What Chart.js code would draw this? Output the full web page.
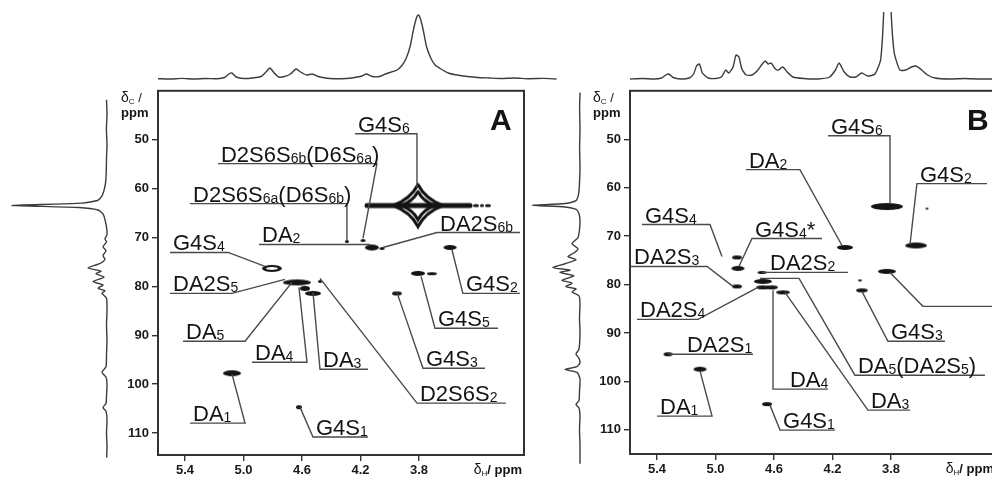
<!DOCTYPE html>
<html>
<head>
<meta charset="utf-8">
<script src="https://cdn.jsdelivr.net/npm/chart.js@4.4.1/dist/chart.umd.min.js"></script>
<style>
  html, body { margin: 0; padding: 0; background: #fff; }
  body { width: 992px; height: 478px; position: relative; overflow: hidden; }
  canvas { position: absolute; }
</style>
</head>
<body>
<canvas id="leftA" width="110" height="390" style="left:0px;top:80px"></canvas>
<canvas id="topA" width="402" height="90" style="left:158px;top:0px"></canvas>
<canvas id="mainA" width="436" height="398" style="left:98px;top:80px"></canvas>
<canvas id="leftB" width="90" height="390" style="left:500px;top:80px"></canvas>
<canvas id="topB" width="366" height="78" style="left:630px;top:12px"></canvas>
<canvas id="mainB" width="436" height="398" style="left:570px;top:80px"></canvas>
<script>
// axis ticks (ppm)
const xTicks = [5.4, 5.0, 4.6, 4.2, 3.8];
const yTicks = [50, 60, 70, 80, 90, 100, 110];

// 1H projections on top: [δH ppm, intensity]
const projTopA = [
  [5.585,0.3],[5.50,0],[5.42,0.6],[5.34,0],[5.26,0.5],[5.18,0.3],[5.13,1.5],[5.10,5],[5.08,6],[5.05,2],
  [5.00,0.5],[4.94,1],[4.88,2.5],[4.84,8],[4.82,11],[4.79,6],[4.76,2],[4.72,2.5],[4.68,5],[4.64,10],
  [4.61,7],[4.57,4],[4.53,5],[4.49,2.5],[4.44,1],[4.38,0.3],[4.30,0.5],[4.24,1.5],[4.19,3],[4.16,5],
  [4.12,2.5],[4.07,2.5],[4.03,5],[3.99,7],[3.95,9],[3.92,13],[3.89,20],[3.86,33],[3.84,48],[3.82,60],
  [3.805,64],[3.79,60],[3.77,48],[3.75,33],[3.72,21],[3.69,14],[3.65,10],[3.60,6],[3.54,4],[3.47,2.5],
  [3.40,1.5],[3.32,1],[3.24,0.5],[3.15,1],[3.05,0.3],[2.95,0.6],[2.86,0]
];
const projTopB = [
  [5.585,0],[5.50,0.5],[5.42,0],[5.37,1],[5.34,4],[5.32,5],[5.29,1.5],[5.24,0],[5.18,1],[5.15,5],
  [5.13,13],[5.11,15],[5.09,6],[5.05,1],[5.00,0.5],[4.96,2],[4.93,9],[4.91,6],[4.88,12],[4.86,24],
  [4.84,22],[4.82,10],[4.79,4],[4.75,4],[4.71,9],[4.68,15],[4.66,18],[4.64,15],[4.62,16],[4.59,10],
  [4.57,9],[4.54,12],[4.51,7],[4.47,2],[4.40,0.5],[4.30,0],[4.22,2],[4.18,9],[4.155,16],[4.12,7],
  [4.08,2],[4.04,2],[4.00,6],[3.96,3],[3.91,5],[3.87,20],[3.845,90],[3.835,200],[3.815,200],[3.805,90],
  [3.78,28],[3.74,9],[3.70,9],[3.66,12],[3.63,13],[3.59,9],[3.55,4],[3.50,1],[3.40,0],[3.30,0.5],
  [3.20,0],[3.00,0]
];

// 13C projections on the left: [intensity, δC ppm]
const projLeftA = [
  [0.5,42],[0,45],[0.6,48],[0,51],[0.5,54],[0.8,57],[1.5,59],[3,60.5],[5,61.6],[9,62.5],
  [25,63.1],[95,63.55],[28,64.0],[9,64.5],[4,65.3],[2,66.5],[0.5,68],[0,69.5],[2,70.4],[0.5,71.0],
  [4,72.0],[1,72.8],[4,73.8],[2,74.6],[8,75.5],[19,76.3],[6,77.0],[11,77.5],[3,78.2],[14,79.1],
  [4,79.8],[9,80.5],[2,81.0],[5,81.5],[0.5,82.5],[0,85],[0.5,88],[0,91],[0.5,94],[1,96.5],
  [5,97.6],[1,98.6],[0,100],[0.5,102.5],[1,104],[4,104.8],[1,105.6],[0,107.5],[0.5,110],[0,112.5],[0.3,115]
];
const projLeftB = [
  [0,40.5],[0.4,44],[0,48],[0.4,52],[0,56],[0.6,59.5],[1.5,61.5],[4,62.8],[15,63.4],[48,63.75],
  [15,64.1],[4,64.6],[1,65.5],[0,67],[0.6,69],[2,70.4],[8,71.7],[2,72.7],[6,73.6],[12,74.3],
  [4,75.0],[15,75.8],[27,76.6],[10,77.1],[20,77.6],[6,78.3],[18,79.2],[8,79.8],[14,80.5],[4,81.0],
  [8,81.6],[1,82.4],[0,84],[0.5,87],[0,90],[1,93.4],[4,94.4],[1,95.3],[0,96.2],[3,97],
  [15,97.6],[3,98.2],[0,99.5],[0.5,102],[1,104],[4,104.8],[1,105.5],[0,107],[0.5,110],[0,113],[0,117]
];

// HSQC cross peaks: [δH, δC]
const peaksA = [
  [3.807,63.47],[4.293,70.82],[4.183,70.62],[4.122,72.05],[4.053,72.25],[3.588,72.05],
  [4.806,76.33],[3.807,77.35],[3.712,77.40],[4.635,79.19],[4.477,79.00],[4.580,80.42],
  [4.525,81.44],[3.951,81.44],[5.079,97.77],[4.621,104.71]
];
const peaksB = [
  [3.828,63.90],[3.554,64.31],[3.629,71.94],[4.115,72.35],[4.853,74.41],[4.847,76.68],
  [4.682,77.50],[4.853,80.39],[4.676,79.36],[4.676,80.59],[4.614,80.59],[4.539,81.62],
  [4.012,79.15],[3.999,81.21],[3.828,77.30],[5.325,94.40],[5.106,97.49],[4.648,104.70]
];

// assignments: text ({..} = subscript), anchor [δH, δC], leader line [δH, δC] points
const labelTextA = ['G4S{6}','D2S6S{6b}(D6S{6a})','D2S6S{6a}(D6S{6b})','DA{2}','DA2S{6b}','G4S{4}',
  'DA2S{5}','DA{5}','DA{4}','DA{3}','D2S6S{2}','G4S{3}','G4S{5}','G4S{2}','DA{1}','G4S{1}'];
const labelPosA = [[4.238,48.78],[5.175,54.90],[5.366,63.07],[4.894,71.43],[3.677,69.0],[5.503,73.07],
  [5.503,81.44],[5.414,91.24],[4.942,95.52],[4.477,96.95],[3.814,103.89],[3.773,96.75],[3.691,88.58],
  [3.500,81.44],[5.366,107.97],[4.525,110.83]];
const leadersA = [
  [[4.238,48.78],[3.814,48.78],[3.814,59.80]],
  [[5.175,54.90],[4.088,54.90],[4.183,70.21]],
  [[5.366,63.07],[4.293,63.07],[4.293,70.62]],
  [[4.894,71.43],[4.135,71.43]],
  [[4.047,72.05],[3.677,69.0],[3.110,69.0]],
  [[5.503,73.07],[5.106,73.07],[4.853,75.93]],
  [[5.503,81.44],[5.079,81.44],[4.717,78.58]],
  [[5.414,91.24],[4.990,91.24],[4.669,79.19]],
  [[4.942,95.52],[4.566,95.52],[4.621,80.21]],
  [[4.525,81.23],[4.477,96.95],[4.149,96.95]],
  [[4.477,78.37],[3.814,103.89],[3.206,103.89]],
  [[3.951,81.23],[3.773,96.75],[3.349,96.75]],
  [[3.786,77.97],[3.691,88.58],[3.260,88.58]],
  [[3.575,72.46],[3.500,81.44],[3.110,81.44]],
  [[5.366,107.97],[4.990,107.97],[5.079,97.97]],
  [[4.614,104.71],[4.525,110.83],[4.149,110.83]]
];
const labelTextB = ['G4S{6}','DA{2}','G4S{2}','G4S{4}','G4S{4}*','DA2S{3}','DA2S{2}','DA2S{4}','DA{4}',
  'DA{5}(DA2S{5})','DA{3}','G4S{3}','DA2S{1}','DA{1}','G4S{1}'];
const labelPosB = [[4.231,49.27],[4.792,56.28],[3.623,59.16],[5.503,67.61],[4.751,70.50],[5.578,76.27],
  [4.648,77.50],[5.537,87.19],[4.512,101.61],[4.047,98.73],[3.958,105.94],[3.821,91.72],[5.216,94.40],
  [5.400,107.18],[4.559,110.06]];
const leadersB = [
  [[4.231,49.27],[3.807,49.27],[3.807,63.28]],
  [[4.792,56.28],[4.423,56.28],[4.135,71.94]],
  [[3.670,71.73],[3.623,59.16],[3.144,59.16]],
  [[5.503,67.61],[5.038,67.61],[4.956,74.21]],
  [[4.840,76.27],[4.751,70.50],[4.272,70.50]],
  [[5.578,76.27],[5.058,76.27],[4.881,80.39]],
  [[4.682,77.50],[4.094,77.50]],
  [[5.537,87.19],[5.120,87.19],[4.710,80.59]],
  [[4.607,81.21],[4.607,101.61],[4.231,101.61]],
  [[4.696,78.74],[4.429,78.74],[4.047,98.73],[3.158,98.73]],
  [[4.525,81.62],[3.958,105.94],[3.670,105.94]],
  [[3.999,81.42],[3.821,91.72],[3.431,91.72]],
  [[3.807,77.50],[3.582,84.51],[3.000,84.51]],
  [[5.325,94.40],[4.744,94.40]],
  [[5.400,107.18],[5.024,107.18],[5.106,97.90]],
  [[4.628,104.91],[4.559,110.06],[4.183,110.06]]
];

// ---- drawing styles ----
const FONT = '"Liberation Sans", Arial, Helvetica, sans-serif';
const INK = '#141414';
const LEAD = '#4a4a4a';
Chart.defaults.font.family = FONT;

// contour sizes in px [w, h, ring]
const sizeA = ['star',[4,3],[5,3],[14,6],[5,3],[13,5],[20,7,1],[14,5],[10,3],[28,6],[4,3],[10,5],[16,5],[10,4],[18,6],[6,4]];
const sizeB = [[32,7],[3,2],[22,6],[16,5],[10,4],[13,5],[9,3],[10,4],[18,5],[14,4],[12,4],[14,4],[4,2],[12,4],[18,5],[9,4],[13,5],[10,4]];

function blob(w, h, ring) {
  const c = document.createElement('canvas');
  c.width = w + 2; c.height = h + 2;
  const g = c.getContext('2d');
  g.fillStyle = INK;
  g.beginPath(); g.ellipse(c.width / 2, c.height / 2, w / 2, h / 2, 0, 0, Math.PI * 2); g.fill();
  if (ring) {
    g.globalCompositeOperation = 'destination-out';
    g.beginPath(); g.ellipse(c.width / 2, c.height / 2, w / 2 - 4, h / 2 - 2, 0, 0, Math.PI * 2); g.fill();
  }
  return c;
}

// G4S6 contour of panel A: four-pointed star sitting on a long horizontal ridge
function starBlob() {
  const c = document.createElement('canvas');
  c.width = 150; c.height = 50;
  const g = c.getContext('2d');
  g.translate(75, 25);
  g.strokeStyle = INK; g.fillStyle = INK;
  g.lineCap = 'round';
  g.lineWidth = 5;
  g.beginPath(); g.moveTo(-51, 0); g.lineTo(52, 0); g.stroke();
  [[58, 3], [64, 2], [70, 3]].forEach(([dx, r]) => {
    g.beginPath(); g.ellipse(dx, 0, r, 1.6, 0, 0, Math.PI * 2); g.fill();
  });
  g.lineWidth = 3;
  [[25, 21], [17, 14]].forEach(([a, b]) => {
    g.beginPath();
    g.moveTo(0, -b);
    g.quadraticCurveTo(a * 0.3, -b * 0.3, a, 0);
    g.quadraticCurveTo(a * 0.3, b * 0.3, 0, b);
    g.quadraticCurveTo(-a * 0.3, b * 0.3, -a, 0);
    g.quadraticCurveTo(-a * 0.3, -b * 0.3, 0, -b);
    g.stroke();
  });
  return c;
}

function drawRich(ctx, str, x, y, size) {
  const parts = str.split(/(\{[^}]*\})/).filter(s => s);
  let cx = x;
  parts.forEach(p => {
    const sub = p[0] === '{';
    const t = sub ? p.slice(1, -1) : p;
    ctx.font = (sub ? Math.round(size * 0.62) : size) + 'px ' + FONT;
    ctx.fillText(t, cx, y + (sub ? 1 : 0));
    cx += ctx.measureText(t).width;
  });
}

function specChart(id, pts, vertical, xr, yr) {
  const data = pts.map(p => ({ x: p[0], y: p[1] }));
  return new Chart(document.getElementById(id), {
    type: 'scatter',
    data: { datasets: [{ data, showLine: true, pointRadius: 0, borderColor: '#3c3c3c', borderWidth: 1.4, tension: 0.2 }] },
    options: {
      responsive: false, animation: false, events: [],
      layout: { padding: 0 },
      plugins: { legend: { display: false }, tooltip: { enabled: false } },
      scales: {
        x: { type: 'linear', display: false, min: xr[0], max: xr[1], reverse: true },
        y: { type: 'linear', display: false, min: yr[0], max: yr[1], reverse: vertical }
      }
    }
  });
}

function mainChart(id, o) {
  const ds = o.leaders.map(pts => ({
    data: pts.map(p => ({ x: p[0], y: p[1] })),
    showLine: true, borderColor: LEAD, borderWidth: 1.4, pointRadius: 0
  }));
  ds.push({
    data: o.peaks.map(p => ({ x: p[0], y: p[1] })),
    showLine: false, pointRadius: 5, borderWidth: 0,
    pointStyle: o.sizes.map(s => s === 'star' ? starBlob() : blob(s[0], s[1], s[2]))
  });

  const decor = {
    id: 'decor',
    afterDraw(chart) {
      const { ctx, chartArea: a, scales: { x, y } } = chart;
      ctx.save();
      ctx.strokeStyle = '#333'; ctx.lineWidth = 2;
      ctx.strokeRect(a.left, a.top, a.right - a.left, a.bottom - a.top);
      ctx.fillStyle = INK;
      ctx.textBaseline = 'alphabetic';
      o.labelText.forEach((t, i) => {
        drawRich(ctx, t, x.getPixelForValue(o.labelPos[i][0]) + 3, y.getPixelForValue(o.labelPos[i][1]) - 2, 22);
      });
      // panel letter
      ctx.font = 'bold 30px ' + FONT;
      ctx.fillText(o.letter, a.right - o.letterDx, a.top + 39);
      // y title
      let tx = a.left - 37;
      ctx.font = '14px ' + FONT; ctx.fillText('δ', tx, a.top + 11); tx += ctx.measureText('δ').width;
      ctx.font = '8px ' + FONT; ctx.fillText('C', tx, a.top + 13); tx += ctx.measureText('C').width;
      ctx.font = '13px ' + FONT; ctx.fillText(' /', tx, a.top + 11);
      ctx.font = 'bold 13px ' + FONT; ctx.fillText('ppm', a.left - 37, a.top + 26);
      // x title
      ctx.font = '14px ' + FONT; const w1 = ctx.measureText('δ').width;
      ctx.font = '8px ' + FONT; const w2 = ctx.measureText('H').width;
      ctx.font = 'bold 13px ' + FONT; const w3 = ctx.measureText('/ ppm').width;
      let bx = a.right - 2 - (w1 + w2 + w3);
      const by = a.bottom + 19;
      ctx.font = '14px ' + FONT; ctx.fillText('δ', bx, by); bx += w1;
      ctx.font = '8px ' + FONT; ctx.fillText('H', bx, by + 2); bx += w2;
      ctx.font = 'bold 13px ' + FONT; ctx.fillText('/ ppm', bx, by);
      ctx.restore();
    }
  };

  const tickFont = { family: FONT, size: 13, weight: 'bold' };
  return new Chart(document.getElementById(id), {
    type: 'scatter',
    data: { datasets: ds },
    options: {
      responsive: false, animation: false, events: [],
      layout: { padding: { left: 0, top: 10, right: 10, bottom: 0 } },
      plugins: { legend: { display: false }, tooltip: { enabled: false } },
      scales: {
        x: {
          type: 'linear', min: 3.082, max: 5.585, reverse: true,
          afterBuildTicks: s => { s.ticks = xTicks.map(v => ({ value: v })); },
          afterFit: s => { s.height = o.axisH; },
          ticks: { autoSkip: false, maxRotation: 0, padding: 2, color: '#1a1a1a', font: tickFont, callback: v => v.toFixed(1) },
          grid: { drawOnChartArea: false, drawTicks: true, tickLength: 6, color: '#333', lineWidth: 1.4 },
          border: { display: true, color: '#333', width: 2 }
        },
        y: {
          type: 'linear', min: 40, max: o.yMax, reverse: true,
          afterBuildTicks: s => { s.ticks = yTicks.map(v => ({ value: v })); },
          afterFit: s => { s.width = 60; },
          ticks: { autoSkip: false, padding: 3, color: '#1a1a1a', font: tickFont },
          grid: { drawOnChartArea: false, drawTicks: true, tickLength: 6, color: '#333', lineWidth: 1.4 },
          border: { display: true, color: '#333', width: 2 }
        }
      }
    },
    plugins: [decor]
  });
}

// panel A
specChart('topA', projTopA, false, [2.836, 5.585], [-11, 79]);
specChart('leftA', projLeftA, true, [-3, 107], [37.96, 117.57]);
mainChart('mainA', {
  peaks: peaksA, sizes: sizeA, leaders: leadersA, labelText: labelTextA, labelPos: labelPosA,
  yMax: 114.5, axisH: 23, letter: 'A', letterDx: 34
});

// panel B
specChart('topB', projTopB, false, [3.082, 5.585], [-11, 67]);
specChart('leftB', projLeftB, true, [-10, 80], [37.94, 118.30]);
mainChart('mainB', {
  peaks: peaksB, sizes: sizeB, leaders: leadersB, labelText: labelTextB, labelPos: labelPosB,
  yMax: 115, axisH: 24, letter: 'B', letterDx: 29
});
</script>
</body>
</html>
